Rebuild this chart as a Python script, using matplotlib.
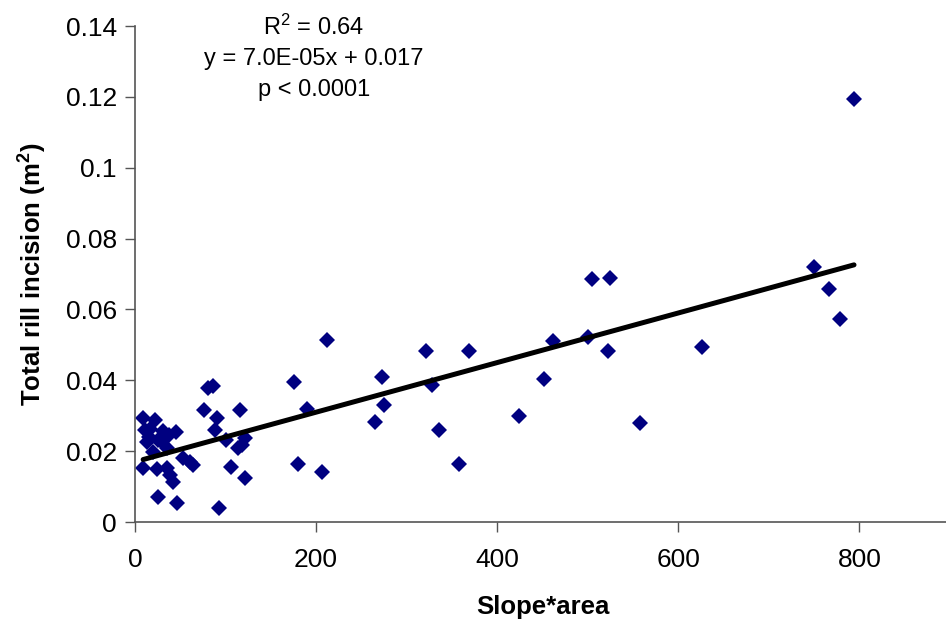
import matplotlib
matplotlib.use("Agg")
import matplotlib.pyplot as plt
import numpy as np

plt.rcParams['font.family'] = ['Liberation Sans', 'DejaVu Sans']
plt.rcParams['mathtext.default'] = 'regular'

# slope*area vs total rill incision (m2)
slope_area = [
    9, 22, 11, 13, 9, 24, 35, 39, 42, 25, 46, 45, 35, 20, 53, 61, 64,
    31, 28, 25, 17, 38, 15,
    76, 81, 86, 90, 88, 93, 101, 116, 121, 114, 106, 122, 118,
    212, 176, 190, 180, 207, 265, 273, 275, 321, 328, 336, 358, 369,
    424, 452, 462, 500, 505, 522, 524, 558, 626, 750, 766, 778, 794,
]
rill_incision = [
    0.0293, 0.0287, 0.0259, 0.0225, 0.0152, 0.0149, 0.0152, 0.0132, 0.0113, 0.0070, 0.0054, 0.0254, 0.0208, 0.0197, 0.0180, 0.0169, 0.0161,
    0.0256, 0.0231, 0.0231, 0.0262, 0.0245, 0.0240,
    0.0315, 0.0378, 0.0384, 0.0293, 0.0259, 0.0039, 0.0231, 0.0315, 0.0237, 0.0208, 0.0156, 0.0124, 0.0218,
    0.0513, 0.0395, 0.0320, 0.0163, 0.0142, 0.0283, 0.0408, 0.0330, 0.0482, 0.0388, 0.0259, 0.0165, 0.0483,
    0.0299, 0.0403, 0.0511, 0.0522, 0.0685, 0.0482, 0.0689, 0.0280, 0.0494, 0.0721, 0.0657, 0.0572, 0.1195,
]

# Excel trendline
slope = 7.0e-05
intercept = 0.017
stats_text = ["R$^2$ = 0.64", "y = 7.0E-05x + 0.017", "p < 0.0001"]

fig = plt.figure(figsize=(9.46, 6.28), dpi=100)
ax = fig.add_axes([135 / 946, 106 / 628, 815 / 946, 496 / 628])

ax.plot(slope_area, rill_incision, linestyle='none', marker='D', markersize=8,
        color='#000080', markeredgewidth=0, zorder=2)

xs = np.array([min(slope_area), max(slope_area)])
ax.plot(xs, slope * xs + intercept, color='black', linewidth=3.6,
        solid_capstyle='round', zorder=3)

ax.set_xlim(0, 900)
ax.set_ylim(0, 0.14)
ax.set_xticks([0, 200, 400, 600, 800])
ax.set_yticks(np.arange(0, 0.141, 0.02))
ax.set_yticklabels(['0', '0.02', '0.04', '0.06', '0.08', '0.1', '0.12', '0.14'])

for side in ['top', 'right']:
    ax.spines[side].set_visible(False)
for side in ['left', 'bottom']:
    ax.spines[side].set_color('#555555')
    ax.spines[side].set_linewidth(1.2)

ax.tick_params(direction='out', length=7, width=1, color='#555555',
               labelsize=19, pad=6)
ax.tick_params(axis='x', pad=12)

ax.set_xlabel('Slope*area', fontsize=18.5, fontweight='bold', labelpad=16)
ax.set_ylabel('Total rill incision (m$^2$)', fontsize=18.5, fontweight='bold', labelpad=12)

for i, line in enumerate(stats_text):
    fig.text(314 / 946, 1 - (27 + i * 31.5) / 628, line, fontsize=17,
             ha='center', va='center')

fig.savefig('out.png', dpi=100)
